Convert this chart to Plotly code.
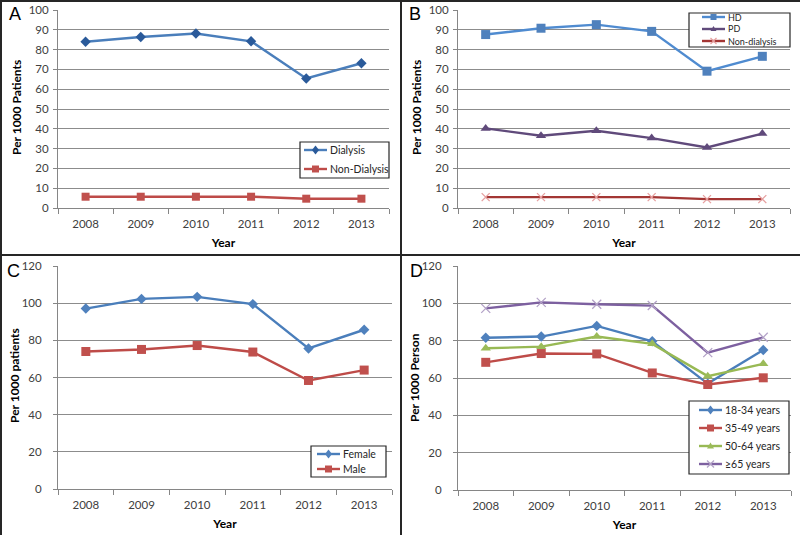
import plotly.graph_objects as go

years = ["2008", "2009", "2010", "2011", "2012", "2013"]

# panel A
dialysis = [84.0, 86.4, 88.1, 84.2, 65.4, 73.1]
non_dialysis_a = [5.7, 5.7, 5.7, 5.7, 4.7, 4.7]

# panel B
hd = [87.6, 90.8, 92.6, 89.2, 69.1, 76.6]
pd_ = [40.2, 36.5, 39.0, 35.3, 30.6, 37.6]
non_dialysis_b = [5.5, 5.5, 5.5, 5.5, 4.5, 4.5]

# panel C
female = [97.1, 102.3, 103.4, 99.5, 75.6, 85.7]
male = [74.0, 75.1, 77.2, 73.7, 58.4, 64.0]

# panel D
age_18_34 = [81.6, 82.2, 87.9, 79.7, 57.0, 75.0]
age_35_49 = [68.4, 73.1, 72.9, 62.7, 56.5, 60.1]
age_50_64 = [75.9, 76.8, 82.2, 78.3, 61.0, 67.6]
age_65 = [97.3, 100.5, 99.5, 98.8, 73.6, 81.8]

W, H = 800, 535
FONT = "Lato"
BLUE = "#4A7EBB"
RED = "#BE4B48"
GREEN = "#98B954"
PURPLE = "#7D60A0"

fig = go.Figure()


def px(x):
    return x / W


def py(y):
    return 1 - y / H


# each series: name, values, axis pair, line colour, marker, marker size, marker colour
series = [
    ("Dialysis", dialysis, "x", "y", BLUE, "diamond", 8, "#2A5A9A"),
    ("Non-Dialysis", non_dialysis_a, "x", "y", RED, "square", 8, "#C0504D"),
    ("HD", hd, "x2", "y2", "#4F8BD0", "square", 9, "#4F81BD"),
    ("PD", pd_, "x2", "y2", "#604A7B", "triangle-up", 9, "#604A7B"),
    ("Non-dialysis", non_dialysis_b, "x2", "y2", "#A33634", "x-thin", 8, "#E6A0A0"),
    ("Female", female, "x3", "y3", BLUE, "diamond", 8, "#4F81BD"),
    ("Male", male, "x3", "y3", RED, "square", 9, "#C0504D"),
    ("18-34 years", age_18_34, "x4", "y4", BLUE, "diamond", 8, "#4F81BD"),
    ("35-49 years", age_35_49, "x4", "y4", RED, "square", 9, "#C0504D"),
    ("50-64 years", age_50_64, "x4", "y4", GREEN, "triangle-up", 9, "#9BBB59"),
    ("≥65 years", age_65, "x4", "y4", PURPLE, "x-thin", 9, "#B3A2C7"),
]

for name, vals, xa, ya, color, symbol, msize, mcolor in series:
    fig.add_trace(go.Scatter(
        x=years, y=vals, name=name, mode="lines+markers",
        xaxis=xa, yaxis=ya, showlegend=False,
        line=dict(color=color, width=2.4),
        marker=dict(symbol=symbol, size=msize, color=mcolor,
                    line=dict(width=1.3 if symbol == "x-thin" else 0, color=mcolor)),
    ))

tickfont = dict(family=FONT, size=11.5, color="#404040")
titlefont = dict(family=FONT, size=12, color="black", weight="bold")


def xaxis(x0, x1, anchor):
    return dict(domain=[px(x0), px(x1)], anchor=anchor, type="category", automargin=False,
                range=[-0.5, 5.5], tickson="boundaries", ticks="outside",
                ticklen=5, tickcolor="#868686", showline=True, linecolor="#868686",
                showgrid=False, tickfont=tickfont, ticklabelstandoff=5,
                title=dict(text="Year", font=titlefont, standoff=9))


def yaxis(y0, y1, anchor, top, dtick, pad):
    return dict(domain=[py(y1), py(y0)], anchor=anchor, range=[0, top], dtick=dtick,
                automargin=False, ticks="outside", ticklen=4, tickcolor="#868686",
                showline=True, ticklabelstandoff=pad,
                linecolor="#868686", gridcolor="#8C8C8C", gridwidth=1, zeroline=False,
                tickfont=tickfont)


fig.update_layout(
    width=W, height=H, margin=dict(l=0, r=0, t=0, b=0),
    paper_bgcolor="white", plot_bgcolor="white",
    font=dict(family=FONT), showlegend=False,
    xaxis=xaxis(58, 389, "y"),
    yaxis=yaxis(10, 208, "x", 100, 10, 2),
    xaxis2=xaxis(458, 790, "y2"),
    yaxis2=yaxis(10, 208, "x2", 100, 10, 2),
    xaxis3=xaxis(58, 392, "y3"),
    yaxis3=yaxis(266, 489, "x3", 120, 20, 9),
    xaxis4=xaxis(458, 791, "y4"),
    yaxis4=yaxis(266, 490, "x4", 120, 20, 9),
)

# y axis titles
for text, x, y in [("Per 1000 Patients", 17, 108), ("Per 1000 Patients", 417, 108),
                   ("Per 1000 patients", 14, 376), ("Per 1000 Person", 414, 377)]:
    fig.add_annotation(text=text, x=px(x), y=py(y), xref="paper", yref="paper",
                       xanchor="center", yanchor="middle",
                       textangle=-90, showarrow=False, font=titlefont)


# legends drawn as boxes, like the original Excel ones
def marker_shape(symbol, x, y, color, r):
    if symbol == "square":
        fig.add_shape(type="rect", xref="paper", yref="paper",
                      x0=px(x - r), x1=px(x + r), y0=py(y + r), y1=py(y - r),
                      fillcolor=color, line=dict(width=0))
    elif symbol == "diamond":
        path = "M {} {} L {} {} L {} {} L {} {} Z".format(
            px(x), py(y - r - 1), px(x + r), py(y), px(x), py(y + r + 1), px(x - r), py(y))
        fig.add_shape(type="path", xref="paper", yref="paper", path=path,
                      fillcolor=color, line=dict(width=0))
    elif symbol == "triangle-up":
        path = "M {} {} L {} {} L {} {} Z".format(
            px(x), py(y - r), px(x + r), py(y + r - 1), px(x - r), py(y + r - 1))
        fig.add_shape(type="path", xref="paper", yref="paper", path=path,
                      fillcolor=color, line=dict(width=0))
    else:
        for s in (1, -1):
            fig.add_shape(type="line", xref="paper", yref="paper",
                          x0=px(x - r), x1=px(x + r), y0=py(y - s * r), y1=py(y + s * r),
                          line=dict(color=color, width=1.2))


def legend_box(box, names, rows, lx0, lx1, fsize, r):
    bx0, by0, bx1, by1 = box
    fig.add_shape(type="rect", xref="paper", yref="paper",
                  x0=px(bx0), x1=px(bx1), y0=py(by1), y1=py(by0),
                  fillcolor="white", line=dict(color="#262626", width=1.2))
    lookup = {s[0]: s for s in series}
    for name, yy in zip(names, rows):
        _, _, _, _, color, symbol, _, mcolor = lookup[name]
        fig.add_shape(type="line", xref="paper", yref="paper",
                      x0=px(lx0), x1=px(lx1), y0=py(yy), y1=py(yy),
                      line=dict(color=color, width=2.4))
        marker_shape(symbol, (lx0 + lx1) / 2, yy, mcolor, r)
        fig.add_annotation(text=name, x=px(lx1 + 1), y=py(yy), xref="paper", yref="paper",
                           xanchor="left", yanchor="middle", showarrow=False,
                           font=dict(family=FONT, size=fsize, color="#262626"))


legend_box((300, 142, 389, 178), ["Dialysis", "Non-Dialysis"], [150, 169], 304, 327, 10.5, 3.5)
legend_box((689, 13, 790, 47), ["HD", "PD", "Non-dialysis"], [17, 29, 41], 702, 725, 9, 3)
legend_box((311, 446, 386, 477), ["Female", "Male"], [454, 469], 317, 340, 10.5, 3.5)
legend_box((689, 401, 789, 474), ["18-34 years", "35-49 years", "50-64 years", "≥65 years"],
           [410, 428, 446, 464], 699, 722, 10.5, 3.5)

# panel letters
for letter, x, y in [("A", 15, 14), ("B", 415, 14), ("C", 13, 271), ("D", 416, 271)]:
    fig.add_annotation(text=letter, x=px(x), y=py(y), xref="paper", yref="paper",
                       xanchor="center", yanchor="middle", showarrow=False, borderpad=0,
                       font=dict(family="Liberation Sans", size=18, color="black"))

# panel frame
frame = dict(type="line", xref="paper", yref="paper", line=dict(color="#262626", width=2))
fig.add_shape(x0=0, x1=1, y0=py(1), y1=py(1), **frame)
fig.add_shape(x0=px(1), x1=px(1), y0=0, y1=py(1), **frame)
fig.add_shape(x0=px(401), x1=px(401), y0=0, y1=py(1), **frame)
fig.add_shape(x0=0, x1=1, y0=py(255), y1=py(255), **frame)

# drop the default page margin so the figure sits at the window corner
fig.write_html("out.html", config={"displayModeBar": False},
               post_script="document.body.style.margin='0';")
